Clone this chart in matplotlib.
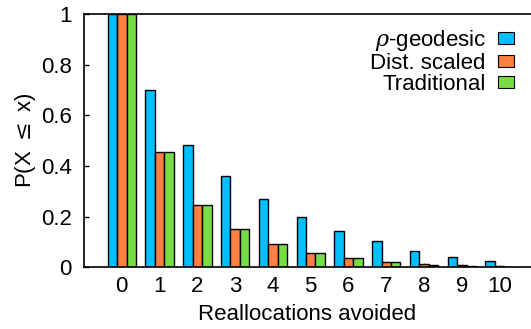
import matplotlib
matplotlib.use("Agg")
import matplotlib.pyplot as plt
import numpy as np
from matplotlib.patches import Patch

plt.rcParams['font.family'] = ['Liberation Sans', 'DejaVu Sans']
plt.rcParams['mathtext.fontset'] = 'dejavuserif'

categories = ["0", "1", "2", "3", "4", "5", "6", "7", "8", "9", "10"]
geodesic = [1.0, 0.698, 0.481, 0.361, 0.269, 0.198, 0.145, 0.103, 0.066, 0.040, 0.024]
dist_scaled = [1.0, 0.457, 0.246, 0.150, 0.091, 0.057, 0.037, 0.021, 0.012, 0.008, 0.004]
traditional = [1.0, 0.457, 0.246, 0.150, 0.091, 0.057, 0.037, 0.021, 0.011, 0.007, 0.003]
dist_scaled_err = [0, 0, 0, 0, 0, 0, 0, 0, 0.004, 0.005, 0.005]
series_labels = [r"$\rho$-geodesic", "Dist. scaled", "Traditional"]
colors = ["#00BFFF", "#FF8040", "#77DD44"]
yticks = [0, 0.2, 0.4, 0.6, 0.8, 1]
ytick_labels = ["0", "0.2", "0.4", "0.6", "0.8", "1"]

FS = 16

fig = plt.figure(figsize=(5.31, 3.29), dpi=100)
ax = fig.add_axes([84 / 531, 1 - 267.3 / 329, 1 - 84 / 531, 253.3 / 329])

x = np.arange(len(categories))
w = 0.25
series = [geodesic, dist_scaled, traditional]
for i, (vals, c) in enumerate(zip(series, colors)):
    ax.bar(x + (i - 1) * w, vals, width=w, color=c, edgecolor="black",
           linewidth=1.0, zorder=2)
ax.errorbar(x, dist_scaled, yerr=[np.zeros(len(x)), dist_scaled_err], fmt="none",
            ecolor="#333333", elinewidth=0.6, capsize=0, zorder=3)

ax.set_xlim(-1.0, 10.83)
ax.set_ylim(0, 1)
ax.set_xticks(x)
ax.set_xticklabels(categories)
ax.set_yticks(yticks)
ax.set_yticklabels(ytick_labels)
ax.tick_params(axis="x", length=0, labelsize=FS, pad=6)
ax.tick_params(axis="y", direction="in", length=3.5, labelsize=FS, pad=9, width=1)
ax.spines["right"].set_visible(False)
for s in ["top", "left", "bottom"]:
    ax.spines[s].set_linewidth(1.2)

ax.set_xlabel("Reallocations avoided", fontsize=FS, labelpad=5)
ax.set_ylabel(r"P(X $\leq$ x)", fontsize=FS, labelpad=2)

handles = [Patch(facecolor=c, edgecolor="black", linewidth=0.8) for c in colors]
leg = ax.legend(handles, series_labels, loc="upper right", bbox_to_anchor=(0.962, 0.945),
                frameon=False, fontsize=FS, markerfirst=False, handlelength=0.72,
                handleheight=0.45, handletextpad=0.55, labelspacing=0.0,
                borderaxespad=0.0, borderpad=0.0)
for t in leg.get_texts():
    t.set_ha("right")

fig.savefig("out.png", dpi=100)
